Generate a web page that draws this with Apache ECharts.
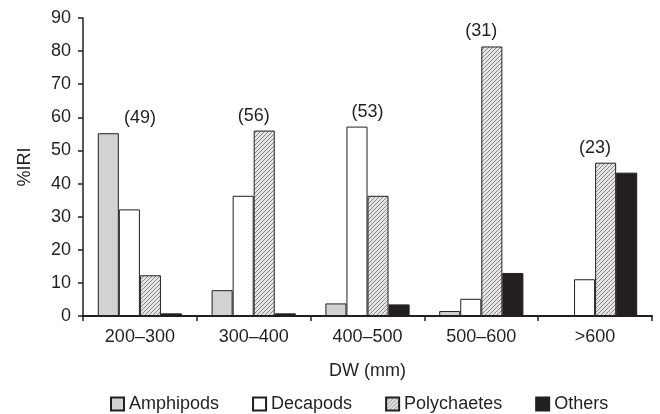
<!DOCTYPE html>
<html>
<head>
<meta charset="utf-8">
<script src="https://cdn.jsdelivr.net/npm/echarts@6/dist/echarts.min.js"></script>
<style>
  html, body { margin: 0; padding: 0; background: #fff; }
  #chart { width: 660px; height: 414px; }
</style>
</head>
<body>
<div id="chart"></div>
<script>
// size classes (disc width)
var sizeClasses = ['200\u2013300', '300\u2013400', '400\u2013500', '500\u2013600', '>600'];
// %IRI per prey group
var amphipods   = [55.2, 7.8, 3.8, 1.5, 0];
var decapods    = [32.2, 36.3, 57.2, 5.2, 11.1];
var polychaetes = [12.3, 56.0, 36.3, 81.4, 46.3];
var others      = [0.8, 0.8, 3.5, 13.0, 43.3];
// sample sizes shown above each group
var sampleSizes = [49, 56, 53, 31, 23];

var textColor = '#231f20';
var fontFam = '"Liberation Sans", Arial, sans-serif';

function hatchPattern() {
    var c = document.createElement('canvas');
    c.width = 4;
    c.height = 4;
    var ctx = c.getContext('2d');
    ctx.fillStyle = '#e4e4e4';
    ctx.fillRect(0, 0, 4, 4);
    ctx.strokeStyle = '#8a8a8a';
    ctx.lineWidth = 1;
    ctx.beginPath();
    ctx.moveTo(0, 4); ctx.lineTo(4, 0);
    ctx.moveTo(-1, 1); ctx.lineTo(1, -1);
    ctx.moveTo(3, 5); ctx.lineTo(5, 3);
    ctx.stroke();
    return c;
}

function barSeries(name, data, color) {
    return {
        name: name,
        type: 'bar',
        data: data,
        barGap: 0,
        barCategoryGap: '26%',
        itemStyle: {
            color: color,
            borderColor: textColor,
            borderWidth: 1
        }
    };
}

var groupMax = sizeClasses.map(function (c, i) {
    return Math.max(amphipods[i], decapods[i], polychaetes[i], others[i]);
});

var chart = echarts.init(document.getElementById('chart'));
var option = {
    animation: false,
    backgroundColor: '#fff',
    textStyle: { fontFamily: fontFam, color: textColor },
    grid: { left: 83, right: 8, top: 18, bottom: 98 },
    legend: {
        top: 395,
        left: 110,
        padding: 0,
        itemWidth: 13,
        itemHeight: 13,
        itemGap: 33,
        icon: 'rect',
        textStyle: { fontSize: 18, color: textColor, fontFamily: fontFam },
        data: ['Amphipods', 'Decapods', 'Polychaetes', 'Others']
    },
    xAxis: {
        type: 'category',
        data: sizeClasses,
        name: 'DW (mm)',
        nameLocation: 'middle',
        nameGap: 46,
        nameTextStyle: { fontSize: 18, color: textColor },
        axisLine: { lineStyle: { color: textColor, width: 2 } },
        axisTick: { show: true, length: 5, lineStyle: { color: textColor, width: 1.5 } },
        axisLabel: { fontSize: 18, color: textColor, margin: 12 },
        splitLine: { show: false }
    },
    yAxis: {
        type: 'value',
        min: 0,
        max: 90,
        interval: 10,
        name: '%IRI',
        nameLocation: 'middle',
        nameGap: 49,
        nameTextStyle: { fontSize: 18, color: textColor },
        axisLine: { show: true, lineStyle: { color: textColor, width: 1.5 } },
        axisTick: { show: true, length: 5, lineStyle: { color: textColor, width: 1.5 } },
        axisLabel: { fontSize: 18, color: textColor, margin: 12 },
        splitLine: { show: false }
    },
    series: [
        barSeries('Amphipods', amphipods, '#d2d2d2'),
        barSeries('Decapods', decapods, '#ffffff'),
        barSeries('Polychaetes', polychaetes, { image: hatchPattern(), repeat: 'repeat' }),
        barSeries('Others', others, '#231f20'),
        {
            name: 'n',
            type: 'scatter',
            symbolSize: 0,
            silent: true,
            data: groupMax,
            itemStyle: { opacity: 1 },
            label: {
                show: true,
                position: 'top',
                distance: 6,
                fontSize: 18,
                color: textColor,
                opacity: 1,
                formatter: function (p) { return '(' + sampleSizes[p.dataIndex] + ')'; }
            }
        }
    ]
};
chart.setOption(option);
</script>
</body>
</html>
